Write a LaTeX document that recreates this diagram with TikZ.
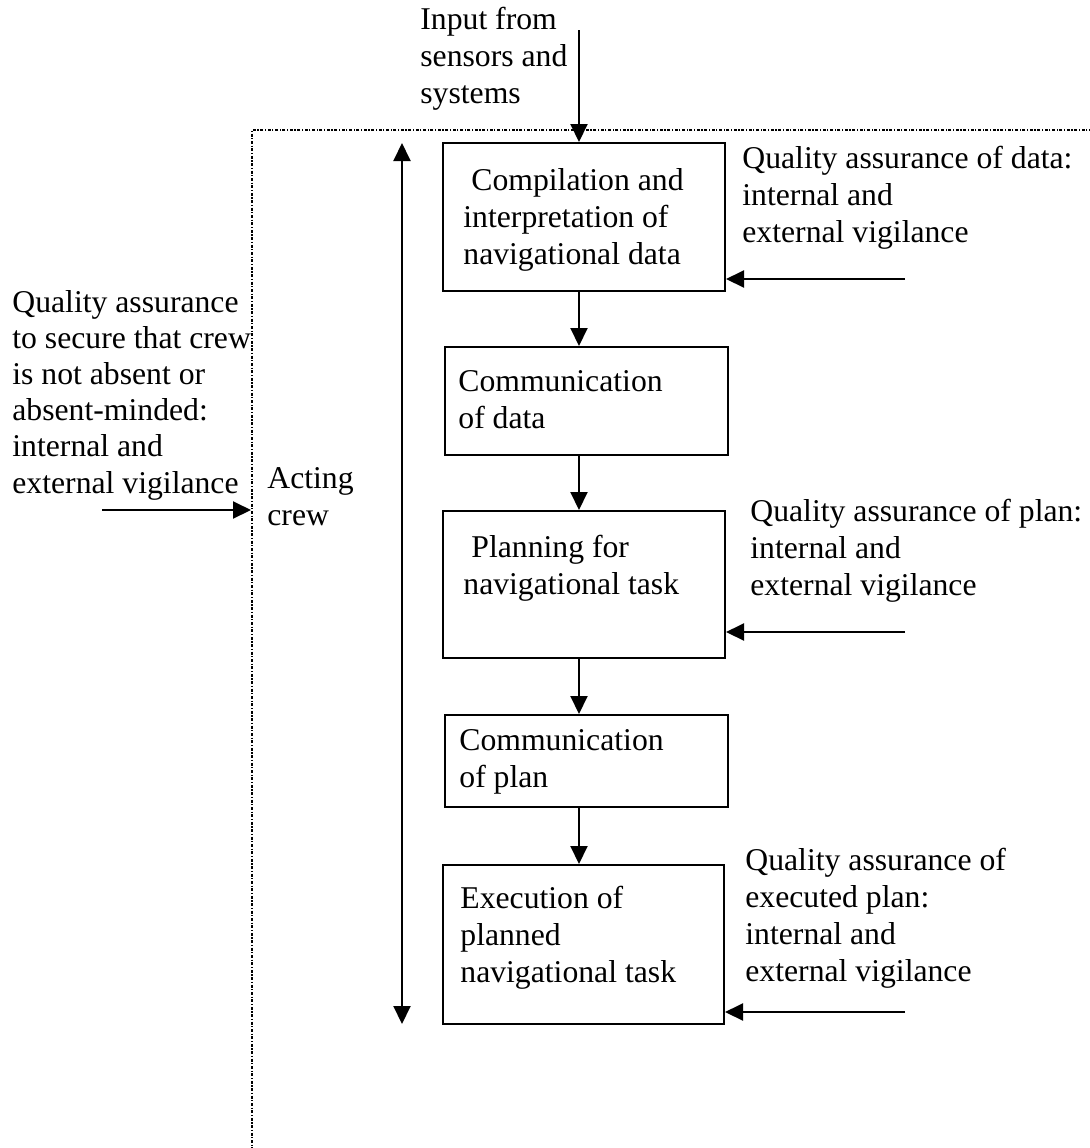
\documentclass[tikz,border=0pt]{standalone}
\usepackage{fontspec}
\setmainfont{Liberation Serif}
\usetikzlibrary{arrows.meta}
\begin{document}
\begin{tikzpicture}[x=0.5pt,y=-0.5pt,
  txt/.style={anchor=base west,inner sep=0pt,align=left,font=\fontsize{15.85}{18.4}\selectfont},
  stepbox/.style={draw,line width=1pt,inner sep=0pt,rectangle},
  arr/.style={line width=1pt,-{Triangle[length=9pt,width=8.5pt]}},
  darr/.style={line width=1pt,{Triangle[length=9pt,width=8.5pt]}-{Triangle[length=9pt,width=8.5pt]}},
  frame/.style={line width=0.8pt,dash pattern=on 1.5pt off 0.8pt on 0.6pt off 0.8pt}]
\useasboundingbox (0,0) rectangle (1090,1148);
% boxes
\node[stepbox,minimum width=141pt,minimum height=74pt] (b1) at (584,217) {};
\node[stepbox,minimum width=141.5pt,minimum height=54pt] (b2) at (586.5,401) {};
\node[stepbox,minimum width=141pt,minimum height=73.5pt] (b3) at (584,584.5) {};
\node[stepbox,minimum width=141.5pt,minimum height=46pt] (b4) at (586.5,761) {};
\node[stepbox,minimum width=140.5pt,minimum height=79.5pt] (b5) at (583.5,944.5) {};
% box texts (anchored at the baseline of the last line)
\node[txt] (t1) at (463,264) {\hspace*{4pt}Compilation and\\interpretation of\\navigational data};
\node[txt] (t2) at (458,428) {Communication\\of data};
\node[txt] (t3) at (463,594) {\hspace*{4pt}Planning for\\navigational task};
\node[txt] (t4) at (459,787) {Communication\\of plan};
\node[txt] (t5) at (460,982) {Execution of\\planned\\navigational task};
% side texts
\node[txt] (inp) at (420,103) {Input from\\sensors and\\systems};
\node[txt,font=\fontsize{15.85}{18.1}\selectfont] (qa0) at (12,493) {Quality assurance\\to secure that crew\\is not absent or\\absent-minded:\\internal and\\external vigilance};
\node[txt] (act) at (267,525) {Acting\\crew};
\node[txt] (qa1) at (742,242) {Quality assurance of data:\\internal and\\external vigilance};
\node[txt] (qa2) at (750,595) {Quality assurance of plan:\\internal and\\external vigilance};
\node[txt] (qa3) at (745,981) {Quality assurance of\\executed plan:\\internal and\\external vigilance};
% frame
\coordinate (fr1) at (1092,130);
\coordinate (fr2) at (252,130);
\coordinate (fr3) at (252,1150);
\draw[frame] (fr1) -- (fr2) -- (fr3);
% main flow arrows
\coordinate (ax) at (579,0);
\coordinate (in) at (579,30);
\draw[arr] (in) -- (b1.north -| in);
\draw[arr] (b1.south -| ax) -- (b2.north -| ax);
\draw[arr] (b2.south -| ax) -- (b3.north -| ax);
\draw[arr] (b3.south -| ax) -- (b4.north -| ax);
\draw[arr] (b4.south -| ax) -- (b5.north -| ax);
% acting crew double arrow
\coordinate (da1) at (402,143);
\coordinate (da2) at (402,1024);
\draw[darr] (da1) -- (da2);
% quality assurance arrows
\coordinate (r1) at (905,279);
\coordinate (r2) at (905,632);
\coordinate (r3) at (905,1012);
\draw[arr] (r1) -- (b1.east |- r1);
\draw[arr] (r2) -- (b3.east |- r2);
\draw[arr] (r3) -- (b5.east |- r3);
\coordinate (l1) at (102,510);
\coordinate (l2) at (251,510);
\draw[arr] (l1) -- (l2);
\end{tikzpicture}
\end{document}
